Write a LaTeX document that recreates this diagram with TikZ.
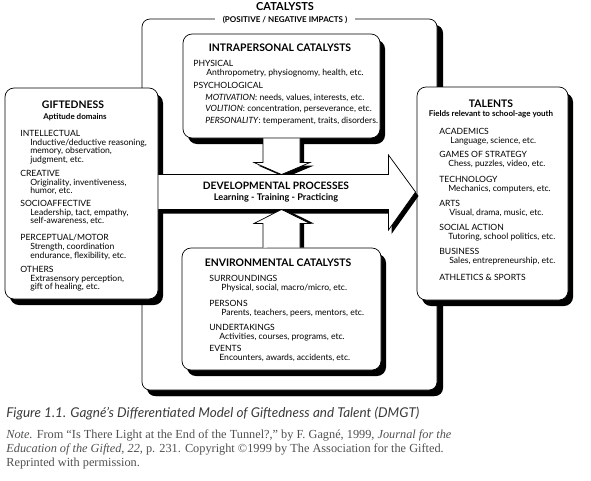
\documentclass[tikz,border=0pt]{standalone}
\usepackage{fontspec}
\setmainfont{Lato}
\newfontfamily\notefont{Liberation Serif}
\usetikzlibrary{calc,shadows}
\definecolor{capgray}{HTML}{3A3A3A}
\definecolor{notegray}{HTML}{505050}
\newcommand{\indt}[1][10pt]{\hspace*{#1}}

\begin{document}
\begin{tikzpicture}[x=1pt, y=-1pt, line width=0.7pt,
    box/.style={draw, fill=white, rounded corners=9pt, anchor=north west, inner sep=0pt, outer sep=0pt,
      drop shadow={shadow xshift=5pt, shadow yshift=-6pt, fill=black, opacity=1}},
    frame/.style={box, rounded corners=8pt,
      drop shadow={shadow xshift=6pt, shadow yshift=-6pt, fill=black, opacity=1}},
    stem/.style={draw, fill=white,
      drop shadow={shadow xshift=4pt, shadow yshift=-3pt, fill=black, opacity=1}},
    upstem/.style={draw, fill=white,
      drop shadow={shadow xshift=4pt, shadow yshift=0pt, fill=black, opacity=1}},
    devarrow/.style={draw, fill=white,
      drop shadow={shadow xshift=3pt, shadow yshift=-4pt, fill=black, opacity=1}},
    ttl/.style={inner sep=0pt, font=\bfseries\fontsize{10.4}{12}\selectfont},
    sttl/.style={inner sep=0pt, font=\bfseries\fontsize{8}{9}\selectfont},
    impact/.style={fill=white, inner xsep=8pt, inner ysep=1.5pt, font=\bfseries\fontsize{8}{9}\selectfont},
    grp/.style={anchor=north west, align=left, inner sep=0pt, font=\fontsize{8.6}{9}\selectfont},
    dtl/.style={inner sep=0pt, font=\bfseries\fontsize{10.2}{12}\selectfont},
    figcap/.style={anchor=base west, inner sep=0pt, text=capgray, font=\itshape\fontsize{13.5}{15}\selectfont},
    srcnote/.style={anchor=north west, align=left, inner sep=0pt, text=notegray, font=\notefont\fontsize{12.3}{14}\selectfont}]
  \useasboundingbox (0,0) rectangle (591,480);

  % Catalysts frame
  \node[frame, minimum width=295pt, minimum height=371pt] (cat) at (142,19) {};
  \node[ttl, font=\bfseries\fontsize{11}{12}\selectfont] (cattl) at (285,7) {CATALYSTS};
  \node[impact] (imp) at (285,19.5) {(POSITIVE / NEGATIVE IMPACTS )};

  % Boxes
  \node[box, minimum width=153pt, minimum height=211pt] (gift) at (5,88) {};
  \node[box, minimum width=197pt, minimum height=104pt] (intra) at (183,34) {};
  \node[box, minimum width=151pt, minimum height=213pt] (tal) at (417,87) {};
  \node[box, minimum width=199pt, minimum height=122pt] (env) at (182,248) {};

  % Developmental processes arrow
  \coordinate (tip) at ($(tal.west)+(-1.5,-1.5)$);
  \coordinate (d1) at ($(gift.east)+(0.4,-19)$);
  \coordinate (d7) at ($(gift.east)+(0.4,16)$);

  % Intrapersonal stem, pointing down
  \draw[stem] ($(intra.south)+(-18.5,0.4)$) -- ($(intra.south)+(-18.5,24.5)$)
    -- ($(intra.south)+(-27.5,24.5)$) -- (intra.south |- d1)
    -- ($(intra.south)+(28.5,24.5)$) -- ($(intra.south)+(18.5,24.5)$)
    -- ($(intra.south)+(18.5,0.4)$);

  \draw[devarrow] (d1) -- ($(tip)+(-27,-17.5)$) -- ($(tip)+(-27,-37)$) -- (tip)
    -- ($(tip)+(-27,38)$) -- ($(tip)+(-27,17.5)$) -- (d7);

  % Environmental stem, pointing up
  \draw[upstem] ($(env.north)+(-18.5,-0.4)$) -- ($(env.north)+(-18.5,-24.5)$)
    -- ($(env.north)+(-27.5,-24.5)$) -- (env.north |- d7)
    -- ($(env.north)+(28.5,-24.5)$) -- ($(env.north)+(18.5,-24.5)$)
    -- ($(env.north)+(18.5,-0.4)$);

  \node[dtl] (devtl) at (276,186) {DEVELOPMENTAL PROCESSES};
  \node[dtl, font=\bfseries\fontsize{9.2}{11}\selectfont] (devsub) at (276,197.5) {Learning - Training - Practicing};

  % Giftedness
  \node[ttl] (gifttl) at (73,105) {GIFTEDNESS};
  \node[sttl] (giftsub) at (75,117) {Aptitude domains};
  \node[grp, font=\fontsize{8.6}{8.7}\selectfont] (intel) at (20,130) {INTELLECTUAL\\\indt Inductive/deductive reasoning,\\\indt memory, observation,\\\indt judgment, etc.};
  \node[grp, font=\fontsize{8.6}{8.7}\selectfont] (creat) at (20,170) {CREATIVE\\\indt Originality, inventiveness,\\\indt humor, etc.};
  \node[grp, font=\fontsize{8.6}{8.7}\selectfont] (socio) at (20,200) {SOCIOAFFECTIVE\\\indt Leadership, tact, empathy,\\\indt self-awareness, etc.};
  \node[grp, font=\fontsize{8.6}{8.7}\selectfont] (perc) at (20,234) {PERCEPTUAL/MOTOR\\\indt Strength, coordination\\\indt endurance, flexibility, etc.};
  \node[grp, font=\fontsize{8.6}{8.7}\selectfont] (oth) at (20,266) {OTHERS\\\indt Extrasensory perception,\\\indt gift of healing, etc.};

  % Intrapersonal catalysts
  \node[ttl] (intratl) at (280,48) {INTRAPERSONAL CATALYSTS};
  \node[grp] (phys) at (193,60) {PHYSICAL\\\indt[13pt]Anthropometry, physiognomy, health, etc.};
  \node[grp, font=\fontsize{8.6}{11.7}\selectfont] (psych) at (193,82) {PSYCHOLOGICAL\\\indt[12pt]\textit{MOTIVATION}: needs, values, interests, etc.\\\indt[12pt]\textit{VOLITION}: concentration, perseverance, etc.\\\indt[12pt]\textit{PERSONALITY}: temperament, traits, disorders.};

  % Environmental catalysts
  \node[ttl] (envtl) at (278,263) {ENVIRONMENTAL CATALYSTS};
  \node[grp] (surr) at (209,275) {SURROUNDINGS\\\indt[12pt]Physical, social, macro/micro, etc.};
  \node[grp] (pers) at (209,300) {PERSONS\\\indt[12pt]Parents, teachers, peers, mentors, etc.};
  \node[grp] (under) at (209,324) {UNDERTAKINGS\\\indt[10pt]Activities, courses, programs, etc.};
  \node[grp] (even) at (209,345) {EVENTS\\\indt[10pt]Encounters, awards, accidents, etc.};

  % Talents
  \node[ttl] (taltl) at (491,104) {TALENTS};
  \node[sttl] (talsub) at (491,114) {Fields relevant to school-age youth};
  \node[grp, font=\fontsize{8.6}{9.4}\selectfont] (acad) at (439,128) {ACADEMICS\\\indt[11pt]Language, science, etc.};
  \node[grp, font=\fontsize{8.6}{9.4}\selectfont] (games) at (439,151) {GAMES OF STRATEGY\\\indt[9pt]Chess, puzzles, video, etc.};
  \node[grp, font=\fontsize{8.6}{9.4}\selectfont] (tech) at (439,176) {TECHNOLOGY\\\indt[9pt]Mechanics, computers, etc.};
  \node[grp, font=\fontsize{8.6}{9.4}\selectfont] (arts) at (439,200) {ARTS\\\indt[10pt]Visual, drama, music, etc.};
  \node[grp, font=\fontsize{8.6}{9.4}\selectfont] (soc) at (439,224) {SOCIAL ACTION\\\indt[9pt]Tutoring, school politics, etc.};
  \node[grp, font=\fontsize{8.6}{9.4}\selectfont] (bus) at (439,248) {BUSINESS\\\indt[10pt]Sales, entrepreneurship, etc.};
  \node[grp] (ath) at (439,274) {ATHLETICS \& SPORTS};

  % Caption
  \node[figcap] (fig) at (6,417.5) {Figure 1.1. Gagné’s Differentiated Model of Giftedness and Talent (DMGT)};
  \node[srcnote] (src) at (6,429) {\textit{Note.} From “Is There Light at the End of the Tunnel?,” by F. Gagné, 1999, \textit{Journal for the}\\\textit{Education of the Gifted, 22,} p. 231. Copyright ©1999 by The Association for the Gifted.\\Reprinted with permission.};
\end{tikzpicture}
\end{document}
